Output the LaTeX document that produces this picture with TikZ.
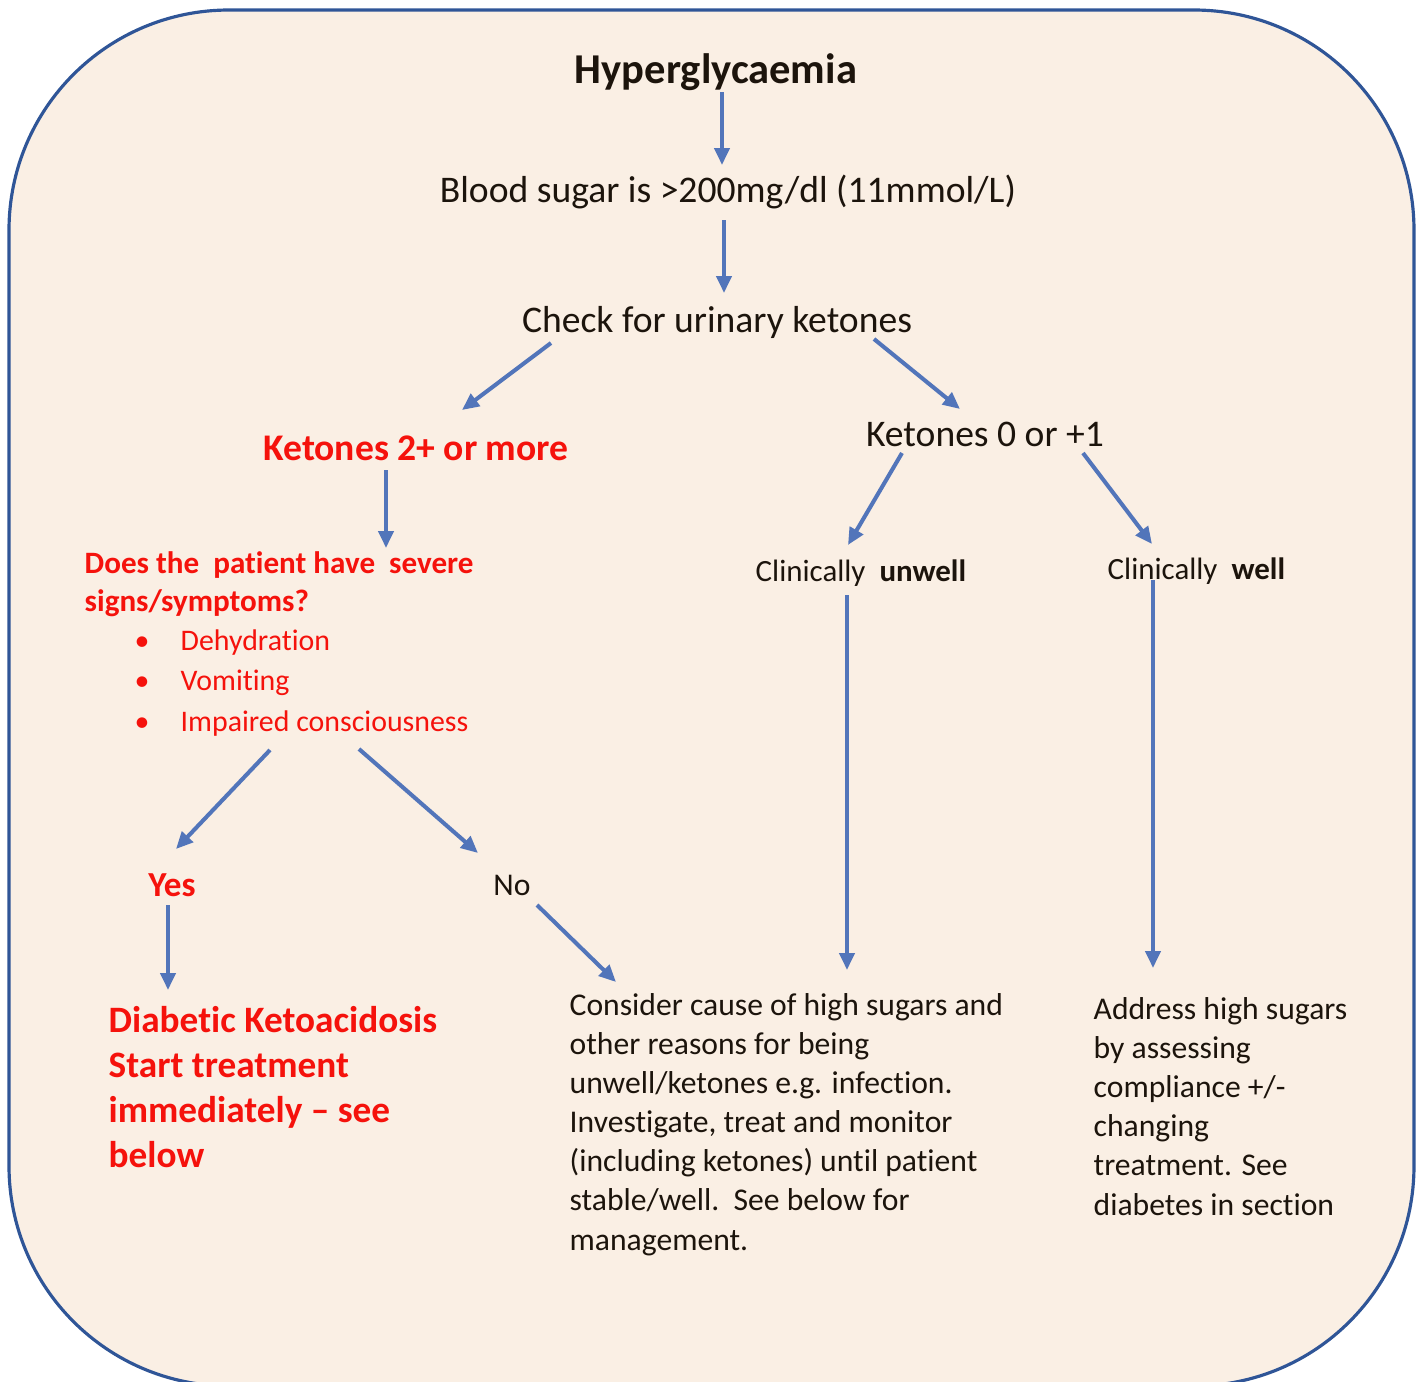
\documentclass[tikz,border=0pt]{standalone}
\usepackage{fontspec}
\setmainfont{Carlito}[RawFeature={-liga;-clig;-calt}]
\usetikzlibrary{arrows.meta}
\definecolor{paper}{RGB}{250,239,228}
\definecolor{frame}{RGB}{47,85,151}
\definecolor{link}{RGB}{82,117,186}
\definecolor{alert}{RGB}{245,18,12}
\definecolor{ink}{RGB}{28,20,12}

\begin{document}
\begin{tikzpicture}[
  txt/.style={inner sep=0pt, text=ink, font=\fontsize{10.7}{12}\selectfont},
  hot/.style={inner sep=0pt, text=alert, font=\fontsize{10.7}{12}\selectfont\bfseries},
  note/.style={inner sep=0pt, text=ink, align=left, font=\fontsize{9}{11.1}\selectfont},
  link/.style={draw=link, line width=1.15pt, -{Triangle[length=0.17cm, width=0.15cm]}},
]

  \clip (0, 0) rectangle (14.22, -13.82);
  \filldraw[fill=paper, draw=frame, line width=0.9pt, rounded corners=2.2cm] (0.09, -0.10) rectangle (14.14, -13.86);

  % top of the chart
  \node[txt, anchor=base, font=\fontsize{12.1}{14}\selectfont\bfseries] (hyper) at (7.16, -0.83) {Hyperglycaemia};
  \node[txt, anchor=base] (blood) at (7.28, -2.02) {Blood sugar is >200mg/dl (11mmol/L)};
  \node[txt, anchor=base] (check) at (7.17, -3.32) {Check for urinary ketones};

  \node[hot, anchor=base] (kpos) at (4.16, -4.60) {Ketones 2+ or more};
  \node[txt, anchor=base] (kneg) at (9.85, -4.46) {Ketones 0 or +1};

  % left branch (base = last line)
  \node[note, anchor=base west, text=alert, font=\fontsize{8.85}{10.8}\selectfont\bfseries] (severe) at (0.84, -6.11)
    {Does the\ \ patient have\ \ severe\\ signs/symptoms?};
  \node[note, anchor=base west, text=alert, font=\fontsize{8.5}{11.4}\selectfont] (signs) at (1.34, -7.31)
    {\makebox[0.46cm][l]{\textbullet}Dehydration\\
     \makebox[0.46cm][l]{\textbullet}Vomiting\\
     \makebox[0.46cm][l]{\textbullet}Impaired consciousness};

  \node[hot, anchor=base, font=\fontsize{10}{12}\selectfont\bfseries] (yes) at (1.72, -8.96) {Yes};
  \node[txt, anchor=base, font=\fontsize{9}{11}\selectfont] (no) at (5.12, -8.95) {No};

  \node[note, anchor=base west, text=alert, font=\fontsize{10.6}{12.8}\selectfont\bfseries] (dka) at (1.08, -11.67)
    {Diabetic Ketoacidosis\\ Start treatment\\ immediately -- see\\ below};

  \node[note, anchor=base west] (consider) at (5.69, -12.50)
    {Consider cause of high sugars and\\ other reasons for being\\ unwell/ketones e.g. infection.\\
     Investigate, treat and\ monitor\\ (including ketones) until patient\\ stable/well.\ \ See below for\\ management.};

  % right branch
  \node[txt, anchor=base west, font=\fontsize{8.8}{11}\selectfont] (unwell) at (7.55, -5.81) {Clinically\ \ \textbf{unwell}};
  \node[txt, anchor=base west, font=\fontsize{8.8}{11}\selectfont] (well) at (11.07, -5.79) {Clinically\ \ \textbf{well}};

  \node[note, anchor=base west] (address) at (10.93, -12.15)
    {Address high\ sugars\\ by assessing\\ compliance\ +/-\\ changing\\ treatment. See\\ diabetes in section};

  % arrow ends
  \coordinate (hyper-out) at (7.22, -0.92);
  \coordinate (blood-in) at (7.22, -1.65);
  \coordinate (blood-out) at (7.24, -2.20);
  \coordinate (check-in) at (7.24, -2.93);
  \coordinate (check-l) at (5.51, -3.43);
  \coordinate (kpos-in) at (4.62, -4.10);
  \coordinate (check-r) at (8.74, -3.39);
  \coordinate (kneg-in) at (9.60, -4.09);
  \coordinate (kpos-out) at (3.86, -4.70);
  \coordinate (severe-in) at (3.86, -5.48);
  \coordinate (signs-l) at (2.70, -7.50);
  \coordinate (yes-in) at (1.76, -8.49);
  \coordinate (signs-r) at (3.59, -7.49);
  \coordinate (no-in) at (4.78, -8.53);
  \coordinate (yes-out) at (1.68, -9.05);
  \coordinate (dka-in) at (1.68, -9.90);
  \coordinate (no-out) at (5.37, -9.05);
  \coordinate (consider-in) at (6.16, -9.82);
  \coordinate (kneg-l) at (9.02, -4.53);
  \coordinate (unwell-in) at (8.48, -5.45);
  \coordinate (kneg-r) at (10.83, -4.53);
  \coordinate (well-in) at (11.52, -5.44);
  \coordinate (unwell-out) at (8.47, -5.95);
  \coordinate (unwell-end) at (8.47, -9.70);
  \coordinate (well-out) at (11.53, -5.80);
  \coordinate (address-in) at (11.53, -9.68);

  \draw[link] (hyper-out) -- (blood-in);
  \draw[link] (blood-out) -- (check-in);
  \draw[link] (check-l) -- (kpos-in);
  \draw[link] (check-r) -- (kneg-in);
  \draw[link] (kpos-out) -- (severe-in);
  \draw[link] (signs-l) -- (yes-in);
  \draw[link] (signs-r) -- (no-in);
  \draw[link] (yes-out) -- (dka-in);
  \draw[link] (no-out) -- (consider-in);
  \draw[link] (kneg-l) -- (unwell-in);
  \draw[link] (kneg-r) -- (well-in);
  \draw[link] (unwell-out) -- (unwell-end);
  \draw[link] (well-out) -- (address-in);

\end{tikzpicture}
\end{document}
